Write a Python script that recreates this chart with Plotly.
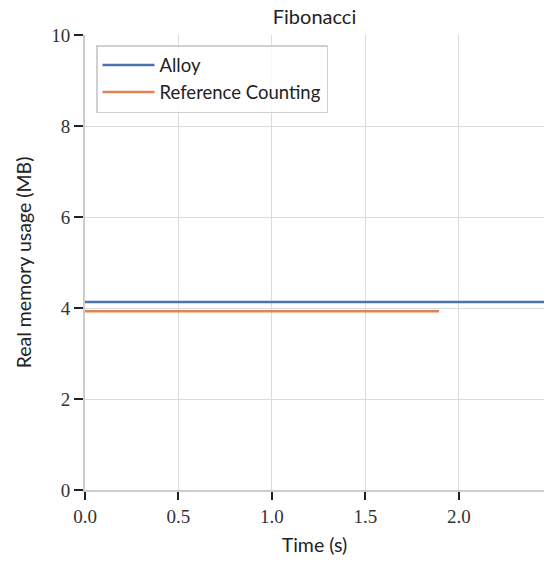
import plotly.graph_objects as go

series_names = ["Alloy", "Reference Counting"]
alloy_time = [0.0, 2.455]
alloy_mem = [4.13, 4.13]
rc_time = [0.0, 1.893]
rc_mem = [3.93, 3.93]
colors = ["#4c72b0", "#dd8452"]
x_ticks = [0.0, 0.5, 1.0, 1.5, 2.0]
x_tick_labels = ["0.0", "0.5", "1.0", "1.5", "2.0"]
y_ticks = [0, 2, 4, 6, 8, 10]
y_tick_labels = ["0", "2", "4", "6", "8", "10"]

fig = go.Figure()
fig.add_trace(go.Scatter(x=alloy_time, y=alloy_mem, mode="lines", name=series_names[0],
                         line=dict(color=colors[0], width=2.5)))
fig.add_trace(go.Scatter(x=rc_time, y=rc_mem, mode="lines", name=series_names[1],
                         line=dict(color=colors[1], width=2.5)))

sans = "Lato, DejaVu Sans, sans-serif"
serif = "Liberation Serif, DejaVu Serif, serif"

fig.update_layout(
    width=550, height=563,
    margin=dict(l=85, r=6, t=35, b=73),
    paper_bgcolor="white", plot_bgcolor="white",
    title=dict(text="Fibonacci", x=0.5, xref="paper", xanchor="center", y=0.97, yref="container",
               yanchor="middle", font=dict(family=sans, size=20, color="#222")),
    showlegend=True,
    legend=dict(x=0.024, y=0.978, xanchor="left", yanchor="top",
                bgcolor="rgba(255,255,255,0.85)", bordercolor="#d0d0d0", borderwidth=1.5,
                font=dict(family=sans, size=18.5, color="#222"), tracegroupgap=8,
                itemwidth=52),
    xaxis=dict(range=[0, 2.455], tickvals=x_ticks, ticktext=x_tick_labels,
               showgrid=True, gridcolor="#dcdcdc", gridwidth=1,
               showline=True, linecolor="#cccccc", linewidth=2,
               ticks="outside", ticklen=8, tickwidth=2, tickcolor="#222",
               tickfont=dict(family=serif, size=19, color="#333"),
               zeroline=False, automargin=False,
               title=dict(text="Time (s)", font=dict(family=sans, size=19.5, color="#222"), standoff=13)),
    yaxis=dict(range=[0, 10], tickvals=y_ticks, ticktext=y_tick_labels,
               showgrid=True, gridcolor="#dcdcdc", gridwidth=1,
               showline=True, linecolor="#cccccc", linewidth=2,
               ticks="outside", ticklen=9, tickwidth=2, tickcolor="#222",
               tickfont=dict(family=serif, size=19, color="#333"),
               zeroline=False, automargin=False,
               title=dict(text="Real memory usage (MB)", font=dict(family=sans, size=19.5, color="#222"), standoff=14)),
)

fig.write_html("out.html", config={"displayModeBar": False},
               post_script="document.body.style.margin='0';document.body.style.overflow='hidden';")
